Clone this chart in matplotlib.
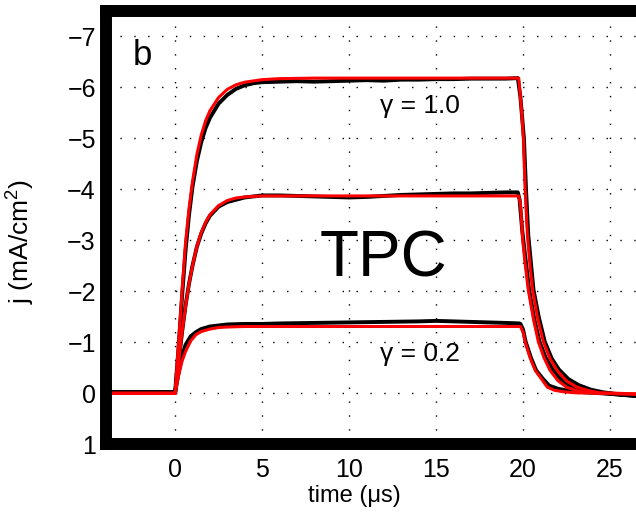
import numpy as np
import matplotlib.pyplot as plt

plt.rcParams["font.family"] = ["Liberation Sans", "DejaVu Sans"]
plt.rcParams["mathtext.fontset"] = "custom"
plt.rcParams["mathtext.rm"] = "Liberation Sans"
plt.rcParams["mathtext.it"] = "Liberation Sans:italic"

t_meas_top = [-4, -2, -0.1, 0.0, 0.2, 0.4, 0.6, 0.8, 1.0, 1.25, 1.5, 1.75, 2.0, 2.5, 3.0, 3.5,
              4.0, 4.5, 5, 6, 7, 8, 9, 10, 11, 12, 13, 14, 15, 16, 17, 18, 19, 19.7,
              19.85, 20.05, 20.17, 20.3, 20.6, 20.9, 21.25, 21.65, 22.05, 22.6, 23.2, 23.9,
              24.6, 25.5, 26.5, 27]
j_meas_top = [-0.02, -0.02, -0.02, -0.01, -0.9, -1.9, -2.8, -3.5, -4.05, -4.55, -4.92, -5.2, -5.4,
              -5.68, -5.85, -5.97, -6.04, -6.08, -6.10, -6.11, -6.12, -6.11, -6.12, -6.13, -6.14,
              -6.13, -6.15, -6.15, -6.16, -6.16, -6.17, -6.17, -6.17, -6.18,
              -5.8, -5.0, -4.0, -3.1, -2.03, -1.5, -1.01, -0.68, -0.47, -0.28, -0.16, -0.07,
              -0.02, 0.02, 0.05, 0.06]

t_meas_mid = [-4, -2, -0.1, 0.0, 0.2, 0.4, 0.6, 0.8, 1.0, 1.25, 1.5, 1.75, 2.0, 2.5, 3.0, 4.0,
              5, 6, 7, 8, 9, 10, 11, 12, 13, 14, 15, 16, 17, 18, 19, 19.7,
              19.8, 19.95, 20.05, 20.35, 20.65, 20.95, 21.3, 21.7, 22.1, 22.6, 23.3, 24.2,
              25, 26, 27]
j_meas_mid = [-0.02, -0.02, -0.02, -0.01, -0.6, -1.2, -1.72, -2.15, -2.5, -2.87, -3.13, -3.33,
              -3.48, -3.66, -3.75, -3.84, -3.88, -3.88, -3.87, -3.86, -3.85, -3.84, -3.85,
              -3.87, -3.89, -3.90, -3.91, -3.92, -3.92, -3.93, -3.94, -3.94,
              -3.8, -3.2, -2.9, -2.03, -1.45, -1.01, -0.7, -0.47, -0.3, -0.17, -0.07, -0.02,
              0.01, 0.04, 0.06]

t_meas_bot = [-4, -2, -0.1, 0.0, 0.2, 0.4, 0.6, 0.9, 1.2, 1.5, 2.0, 2.5, 3.0, 4.0, 5, 6, 8, 10,
              12, 14, 15, 16, 17, 18, 19, 19.8,
              19.85, 20.0, 20.15, 20.45, 20.75, 21.15, 21.5, 22.0, 22.6, 23.5, 25, 27]
j_meas_bot = [-0.02, -0.02, -0.02, -0.01, -0.4, -0.72, -0.95, -1.12, -1.2, -1.26, -1.31, -1.33,
              -1.35, -1.36, -1.36, -1.37, -1.38, -1.39, -1.40, -1.41, -1.42, -1.41, -1.40, -1.39,
              -1.38, -1.37,
              -1.36, -1.25, -1.01, -0.7, -0.45, -0.28, -0.15, -0.09, -0.05, -0.02, 0.01, 0.06]

# ---- model fits (red)
t_fit_top = [-4, 0, 0.2, 0.4, 0.6, 0.8, 1.0, 1.25, 1.5, 1.75, 2.0, 2.5, 3.0, 3.5, 4.0, 5.0, 6.0,
             8.0, 19.75, 19.9, 20.02, 20.12, 20.25, 20.4, 20.55, 20.85, 21.17, 21.55, 21.95,
             22.5, 23.1, 23.8, 24.4, 25.5, 27]
j_fit_top = [0, 0, -1.0, -2.0, -2.95, -3.62, -4.15, -4.68, -5.06, -5.34, -5.54, -5.80, -5.96,
             -6.05, -6.10, -6.15, -6.17, -6.18, -6.18, -5.6, -5.0, -4.0, -3.1, -2.5, -2.03,
             -1.45, -1.01, -0.68, -0.45, -0.24, -0.12, -0.05, -0.01, 0.0, 0.02]

t_fit_mid = [-4, 0, 0.2, 0.4, 0.6, 0.8, 1.0, 1.25, 1.5, 1.75, 2.0, 2.5, 3.0, 3.5, 4.0, 5.0,
             19.75, 19.85, 19.98, 20.1, 20.3, 20.6, 20.88, 21.2, 21.55, 22.0, 22.5, 23.2,
             24.4, 27]
j_fit_mid = [0, 0, -0.6, -1.2, -1.7, -2.15, -2.5, -2.88, -3.15, -3.35, -3.5, -3.68, -3.78,
             -3.83, -3.85, -3.87, -3.87, -3.7, -3.01, -2.6, -2.03, -1.45, -1.01, -0.7, -0.45,
             -0.25, -0.12, -0.04, 0.0, 0.02]

t_fit_bot = [-4, 0, 0.2, 0.4, 0.6, 0.9, 1.2, 1.5, 2.0, 2.5, 3.0, 4.0, 19.85, 20.0, 20.12,
             20.4, 20.7, 21.1, 21.4, 21.8, 22.3, 23.0, 24.4, 27]
j_fit_bot = [0, 0, -0.35, -0.63, -0.82, -1.03, -1.15, -1.21, -1.26, -1.29, -1.30, -1.31,
             -1.31, -1.2, -1.01, -0.7, -0.45, -0.26, -0.12, -0.06, -0.03, -0.01, 0.0, 0.02]

fig = plt.figure(figsize=(6.36, 5.15), dpi=100)
ax = fig.add_axes([0.1659, 0.1373, 0.848, 0.8417])

for t, j in [(t_meas_top, j_meas_top), (t_meas_mid, j_meas_mid), (t_meas_bot, j_meas_bot)]:
    ax.plot(t, j, color="k", linewidth=2.8, solid_joinstyle="round")
for t, j in [(t_fit_top, j_fit_top), (t_fit_mid, j_fit_mid), (t_fit_bot, j_fit_bot)]:
    ax.plot(t, j, color="#ff0000", linewidth=2.2, solid_joinstyle="round")

ax.set_xlim(-4, 27)
ax.set_ylim(1, -7.5)
ax.set_xticks([0, 5, 10, 15, 20, 25])
ax.set_yticks([-7, -6, -5, -4, -3, -2, -1, 0, 1])
ax.tick_params(length=0, labelsize=18)
ax.tick_params(axis="y", pad=7)
ax.tick_params(axis="x", pad=10)

ax.set_axisbelow(True)
ax.grid(True, color="k", linestyle=(0, (1, 9)), linewidth=1.0)
for s in ax.spines.values():
    s.set_linewidth(8.6)
    s.set_capstyle("projecting")

ax.set_xlabel("time (μs)", fontsize=17)
ax.xaxis.set_label_coords(0.461, -0.094)
ax.set_ylabel("j (mA/cm$^2$)", fontsize=19)
ax.yaxis.set_label_coords(-0.127, 0.467)

ax.text(-2.41, -6.44, "b", fontsize=25, ha="left", va="baseline")
ax.text(11.95, -2.29, "TPC", fontsize=46, ha="center", va="baseline")
ax.text(14.08, -5.50, "γ = 1.0", fontsize=19, ha="center", va="baseline")
ax.text(14.08, -0.63, "γ = 0.2", fontsize=19, ha="center", va="baseline")

fig.savefig("out.png", dpi=100)
